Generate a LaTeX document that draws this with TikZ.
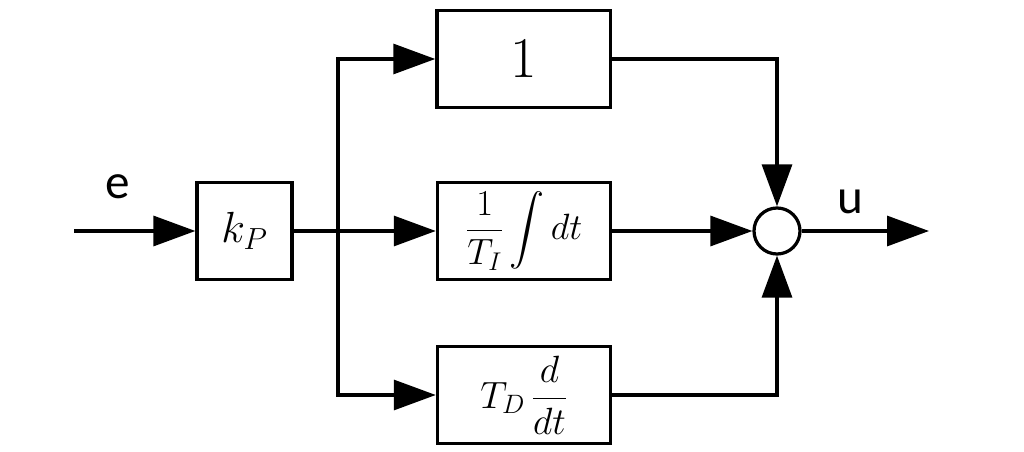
\RequirePackage{fix-cm}
\documentclass[tikz,border=0pt]{standalone}
\usepackage{exscale}
\usepackage{fontspec}
\newfontfamily\labfont{Carlito}
\usetikzlibrary{arrows.meta}
\begin{document}
\begin{tikzpicture}[x=0.025cm,y=-0.025cm,
  line width=2.3pt,
  blk/.style={draw,rectangle,minimum height=2.43cm,inner sep=0pt},
  sumnode/.style={draw,circle,minimum size=1.15cm,inner sep=0pt},
  arr/.style={-{Triangle[length=1.05cm,width=0.75cm]}},
  lab/.style={font=\labfont\fontsize{35}{38}\selectfont,inner sep=0pt}]
\useasboundingbox (0,0) rectangle (1024,452);
\node[blk,minimum width=2.375cm] (kp) at (244.5,231) {\fontsize{31}{36}\selectfont$k_P$};
\node[blk,minimum width=4.33cm] (p) at (523.5,59) {\fontsize{41}{48}\selectfont$1$};
\node[blk,minimum width=4.33cm] (i) at (524,231) {\fontsize{26}{32}\selectfont$\displaystyle\frac{1}{T_I}\int dt$};
\node[blk,minimum width=4.33cm] (d) at (524,395) {\fontsize{27}{32}\selectfont$\displaystyle T_D\,\frac{d}{dt}$};
\node[sumnode] (s) at (777,231) {};
\coordinate (in) at (74,231);
\coordinate (out) at (929,231);
\coordinate (br) at (338,231);
\node[lab] (e) at (118,187) {e};
\node[lab] (u) at (850,202) {u};
\draw[arr] (in) -- (kp.west);
\draw (kp.east) -- (br);
\draw[arr] (br) |- (p.west);
\draw[arr] (br) -- (i.west);
\draw[arr] (br) |- (d.west);
\draw[arr] (p.east) -| (s.north);
\draw[arr] (i.east) -- (s.west);
\draw[arr] (d.east) -| (s.south);
\draw[arr] (s.east) -- (out);
\end{tikzpicture}
\end{document}
